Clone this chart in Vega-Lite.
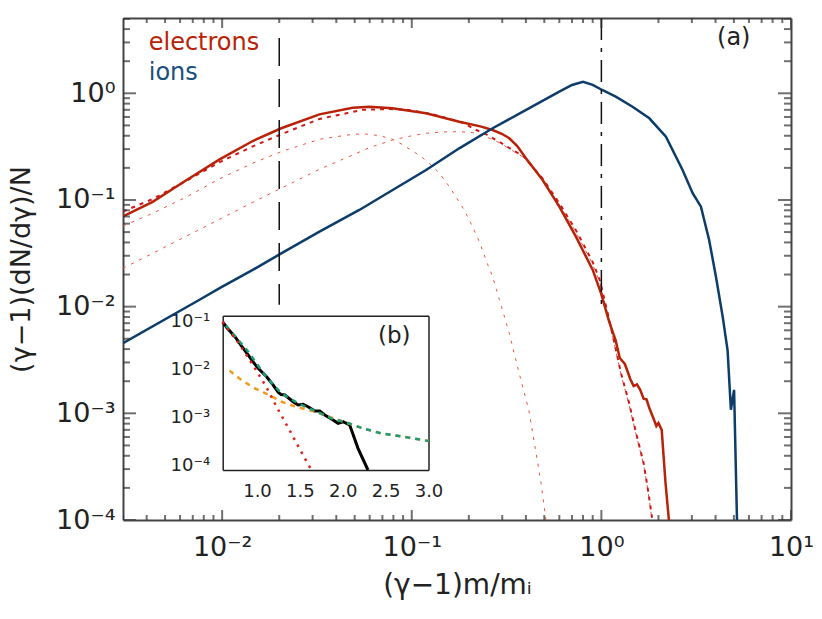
{
  "$schema": "https://vega.github.io/schema/vega-lite/v6.json",
  "width": 668,
  "height": 502,
  "autosize": {"type": "none"},
  "padding": {"left": 123, "top": 18, "right": 31, "bottom": 99},
  "background": "white",
  "config": {"view": {"stroke": null}, "font": "DejaVu Sans", "axis": {"grid": false}},
  "datasets": {
    "m": [
      {"s":"c2","x":0.003,"y":0.0229},{"s":"c2","x":0.0043,"y":0.0316},{"s":"c2","x":0.0065,"y":0.046},{"s":"c2","x":0.0097,"y":0.066},{"s":"c2","x":0.0145,"y":0.095},{"s":"c2","x":0.0205,"y":0.129},{"s":"c2","x":0.0326,"y":0.194},{"s":"c2","x":0.0488,"y":0.264},{"s":"c2","x":0.0597,"y":0.309},{"s":"c2","x":0.0793,"y":0.365},{"s":"c2","x":0.1,"y":0.40},{"s":"c2","x":0.119,"y":0.422},{"s":"c2","x":0.15,"y":0.435},{"s":"c2","x":0.178,"y":0.437},{"s":"c2","x":0.21,"y":0.428},{"s":"c2","x":0.246,"y":0.392},{"s":"c2","x":0.289,"y":0.345},{"s":"c2","x":0.34,"y":0.29},{"s":"c2","x":0.39,"y":0.25},{"s":"c2","x":0.49,"y":0.155},{"s":"c2","x":0.6,"y":0.09},{"s":"c2","x":0.734,"y":0.05},{"s":"c2","x":0.899,"y":0.025},{"s":"c2","x":0.98,"y":0.017},{"s":"c2","x":1.1,"y":0.0073},{"s":"c2","x":1.27,"y":0.0023},{"s":"c2","x":1.4,"y":0.0012},{"s":"c2","x":1.51,"y":0.00068},{"s":"c2","x":1.67,"y":0.00033},{"s":"c2","x":1.76,"y":0.00019},{"s":"c2","x":1.85,"y":0.0001},
      {"s":"c1","x":0.003,"y":0.057},{"s":"c1","x":0.0043,"y":0.075},{"s":"c1","x":0.0065,"y":0.107},{"s":"c1","x":0.0097,"y":0.158},{"s":"c1","x":0.0145,"y":0.221},{"s":"c1","x":0.0205,"y":0.284},{"s":"c1","x":0.0326,"y":0.371},{"s":"c1","x":0.0488,"y":0.413},{"s":"c1","x":0.0575,"y":0.415},{"s":"c1","x":0.068,"y":0.40},{"s":"c1","x":0.079,"y":0.372},{"s":"c1","x":0.0894,"y":0.33},{"s":"c1","x":0.1,"y":0.29},{"s":"c1","x":0.11,"y":0.262},{"s":"c1","x":0.1237,"y":0.221},{"s":"c1","x":0.14,"y":0.178},{"s":"c1","x":0.158,"y":0.133},{"s":"c1","x":0.171,"y":0.107},{"s":"c1","x":0.189,"y":0.0806},{"s":"c1","x":0.205,"y":0.0605},{"s":"c1","x":0.223,"y":0.0438},{"s":"c1","x":0.236,"y":0.034},{"s":"c1","x":0.25,"y":0.0255},{"s":"c1","x":0.267,"y":0.0191},{"s":"c1","x":0.28,"y":0.0143},{"s":"c1","x":0.29,"y":0.0116},{"s":"c1","x":0.327,"y":0.0056},{"s":"c1","x":0.368,"y":0.0024},{"s":"c1","x":0.414,"y":0.00108},{"s":"c1","x":0.45,"y":0.00045},{"s":"c1","x":0.481,"y":0.00022},{"s":"c1","x":0.51,"y":0.0001},
      {"s":"ef","x":0.003,"y":0.078},{"s":"ef","x":0.0043,"y":0.102},{"s":"ef","x":0.0065,"y":0.152},{"s":"ef","x":0.0097,"y":0.226},{"s":"ef","x":0.0145,"y":0.318},{"s":"ef","x":0.0205,"y":0.413},{"s":"ef","x":0.0326,"y":0.575},{"s":"ef","x":0.0551,"y":0.70},{"s":"ef","x":0.075,"y":0.712},{"s":"ef","x":0.093,"y":0.705},{"s":"ef","x":0.129,"y":0.635},{"s":"ef","x":0.186,"y":0.53},{"s":"ef","x":0.218,"y":0.455},{"s":"ef","x":0.25,"y":0.407},{"s":"ef","x":0.289,"y":0.352},{"s":"ef","x":0.34,"y":0.294},{"s":"ef","x":0.39,"y":0.255},{"s":"ef","x":0.49,"y":0.159},{"s":"ef","x":0.6,"y":0.093},{"s":"ef","x":0.734,"y":0.052},{"s":"ef","x":0.899,"y":0.0263},{"s":"ef","x":0.98,"y":0.0178},{"s":"ef","x":1.1,"y":0.0076},{"s":"ef","x":1.27,"y":0.00237},{"s":"ef","x":1.4,"y":0.00125},{"s":"ef","x":1.51,"y":0.0007},{"s":"ef","x":1.67,"y":0.00034},{"s":"ef","x":1.76,"y":0.000193},{"s":"ef","x":1.85,"y":0.000105},
      {"s":"e","x":0.003,"y":0.070},{"s":"e","x":0.0043,"y":0.096},{"s":"e","x":0.0065,"y":0.154},{"s":"e","x":0.0097,"y":0.24},{"s":"e","x":0.0145,"y":0.357},{"s":"e","x":0.0205,"y":0.47},{"s":"e","x":0.0326,"y":0.635},{"s":"e","x":0.0488,"y":0.733},{"s":"e","x":0.06,"y":0.749},{"s":"e","x":0.079,"y":0.724},{"s":"e","x":0.119,"y":0.65},{"s":"e","x":0.178,"y":0.542},{"s":"e","x":0.23,"y":0.49},{"s":"e","x":0.267,"y":0.453},{"s":"e","x":0.3,"y":0.415},{"s":"e","x":0.327,"y":0.379},{"s":"e","x":0.36,"y":0.32},{"s":"e","x":0.4,"y":0.246},{"s":"e","x":0.49,"y":0.154},{"s":"e","x":0.6,"y":0.0865},{"s":"e","x":0.734,"y":0.0453},{"s":"e","x":0.9,"y":0.0221},{"s":"e","x":0.995,"y":0.0134},{"s":"e","x":1.1,"y":0.0072},{"s":"e","x":1.19,"y":0.0048},{"s":"e","x":1.25,"y":0.0033},{"s":"e","x":1.33,"y":0.0029},{"s":"e","x":1.42,"y":0.0021},{"s":"e","x":1.48,"y":0.0018},{"s":"e","x":1.54,"y":0.00187},{"s":"e","x":1.6,"y":0.00167},{"s":"e","x":1.67,"y":0.00137},{"s":"e","x":1.73,"y":0.00135},{"s":"e","x":1.79,"y":0.00112},{"s":"e","x":1.89,"y":0.00088},{"s":"e","x":1.95,"y":0.00076},{"s":"e","x":2.0,"y":0.00081},{"s":"e","x":2.08,"y":0.0007},{"s":"e","x":2.18,"y":0.00022},{"s":"e","x":2.27,"y":0.0001},
      {"s":"i","x":0.003,"y":0.00454},{"s":"i","x":0.0076,"y":0.0116},{"s":"i","x":0.0097,"y":0.0149},{"s":"i","x":0.0145,"y":0.0221},{"s":"i","x":0.0205,"y":0.0316},{"s":"i","x":0.0326,"y":0.0505},{"s":"i","x":0.0529,"y":0.0806},{"s":"i","x":0.0793,"y":0.124},{"s":"i","x":0.119,"y":0.191},{"s":"i","x":0.178,"y":0.305},{"s":"i","x":0.267,"y":0.47},{"s":"i","x":0.401,"y":0.698},{"s":"i","x":0.6,"y":1.035},{"s":"i","x":0.7,"y":1.196},{"s":"i","x":0.8,"y":1.284},{"s":"i","x":0.9,"y":1.2},{"s":"i","x":1.01,"y":1.074},{"s":"i","x":1.1,"y":1.0},{"s":"i","x":1.19,"y":0.929},{"s":"i","x":1.46,"y":0.749},{"s":"i","x":1.79,"y":0.583},{"s":"i","x":2.19,"y":0.392},{"s":"i","x":2.68,"y":0.191},{"s":"i","x":3.03,"y":0.1156},{"s":"i","x":3.35,"y":0.0865},{"s":"i","x":3.7,"y":0.0422},{"s":"i","x":4.02,"y":0.0191},{"s":"i","x":4.36,"y":0.0081},{"s":"i","x":4.63,"y":0.0039},{"s":"i","x":4.82,"y":0.00108},{"s":"i","x":5.01,"y":0.00166},{"s":"i","x":5.19,"y":0.0001}
    ],
    "r": [
      {"s":"d","x":0.02,"y":3.3,"y2":0.0104},
      {"s":"dd","x":1.0,"y":5.08,"y2":0.0095}
    ],
    "t": [
      {"s":"e","x":0.0041,"y":2.55,"t":"electrons"},
      {"s":"i","x":0.0041,"y":1.33,"t":"ions"},
      {"s":"a","x":4.99,"y":3.3,"t":"(a)"}
    ],
    "d1": [{"x":1,"y":1}],
    "xmj": [{"v":0.01},{"v":0.1},{"v":1},{"v":10}],
    "xmn": [{"v":0.003},{"v":0.004},{"v":0.005},{"v":0.006},{"v":0.007},{"v":0.008},{"v":0.009},{"v":0.02},{"v":0.03},{"v":0.04},{"v":0.05},{"v":0.06},{"v":0.07},{"v":0.08},{"v":0.09},{"v":0.2},{"v":0.3},{"v":0.4},{"v":0.5},{"v":0.6},{"v":0.7},{"v":0.8},{"v":0.9},{"v":2},{"v":3},{"v":4},{"v":5},{"v":6},{"v":7},{"v":8},{"v":9}],
    "ymj": [{"v":0.0001},{"v":0.001},{"v":0.01},{"v":0.1},{"v":1}],
    "ymn": [{"v":0.0002},{"v":0.0003},{"v":0.0004},{"v":0.0005},{"v":0.0006},{"v":0.0007},{"v":0.0008},{"v":0.0009},{"v":0.002},{"v":0.003},{"v":0.004},{"v":0.005},{"v":0.006},{"v":0.007},{"v":0.008},{"v":0.009},{"v":0.02},{"v":0.03},{"v":0.04},{"v":0.05},{"v":0.06},{"v":0.07},{"v":0.08},{"v":0.09},{"v":0.2},{"v":0.3},{"v":0.4},{"v":0.5},{"v":0.6},{"v":0.7},{"v":0.8},{"v":0.9},{"v":2},{"v":3},{"v":4},{"v":5}],
    "ixmj": [{"v":1.0},{"v":1.5},{"v":2.0},{"v":2.5}],
    "ixmn": [{"v":0.7},{"v":0.8},{"v":0.9},{"v":1.1},{"v":1.2},{"v":1.3},{"v":1.4},{"v":1.6},{"v":1.7},{"v":1.8},{"v":1.9},{"v":2.1},{"v":2.2},{"v":2.3},{"v":2.4},{"v":2.6},{"v":2.7},{"v":2.8},{"v":2.9}],
    "iymj": [{"v":0.0001},{"v":0.001},{"v":0.01},{"v":0.1}],
    "iymn": [{"v":0.00008},{"v":0.00009},{"v":0.0002},{"v":0.0003},{"v":0.0004},{"v":0.0005},{"v":0.0006},{"v":0.0007},{"v":0.0008},{"v":0.0009},{"v":0.002},{"v":0.003},{"v":0.004},{"v":0.005},{"v":0.006},{"v":0.007},{"v":0.008},{"v":0.009},{"v":0.02},{"v":0.03},{"v":0.04},{"v":0.05},{"v":0.06},{"v":0.07},{"v":0.08},{"v":0.09}],
    "n": [
      {"s":"b","x":0.6,"y":0.1},{"s":"b","x":0.65,"y":0.075},{"s":"b","x":0.743,"y":0.0486},{"s":"b","x":0.82,"y":0.031},{"s":"b","x":0.898,"y":0.0201},{"s":"b","x":0.95,"y":0.0148},{"s":"b","x":1.014,"y":0.0106},{"s":"b","x":1.112,"y":0.00707},{"s":"b","x":1.189,"y":0.00474},{"s":"b","x":1.247,"y":0.00334},{"s":"b","x":1.28,"y":0.003},{"s":"b","x":1.325,"y":0.00293},{"s":"b","x":1.421,"y":0.00212},{"s":"b","x":1.48,"y":0.00181},{"s":"b","x":1.538,"y":0.00187},{"s":"b","x":1.596,"y":0.00167},{"s":"b","x":1.674,"y":0.00135},{"s":"b","x":1.732,"y":0.00135},{"s":"b","x":1.79,"y":0.00112},{"s":"b","x":1.887,"y":0.00088},{"s":"b","x":1.945,"y":0.00075},{"s":"b","x":2.003,"y":0.00081},{"s":"b","x":2.081,"y":0.00069},{"s":"b","x":2.178,"y":0.000224},{"s":"b","x":2.294,"y":0.000079},
      {"s":"r","x":0.6,"y":0.1},{"s":"r","x":0.7,"y":0.056},{"s":"r","x":0.8,"y":0.033},{"s":"r","x":0.976,"y":0.0106},{"s":"r","x":1.1,"y":0.0046},{"s":"r","x":1.228,"y":0.00167},{"s":"r","x":1.4,"y":0.00046},{"s":"r","x":1.557,"y":0.000139},{"s":"r","x":1.635,"y":0.000079},
      {"s":"o","x":0.68,"y":0.0095},{"s":"o","x":0.82,"y":0.006},{"s":"o","x":0.976,"y":0.00404},{"s":"o","x":1.13,"y":0.003},{"s":"o","x":1.286,"y":0.00212},{"s":"o","x":1.44,"y":0.0017},{"s":"o","x":1.674,"y":0.00131},{"s":"o","x":2.061,"y":0.00075},{"s":"o","x":2.22,"y":0.0006},{"s":"o","x":2.45,"y":0.00046},{"s":"o","x":2.68,"y":0.0004},{"s":"o","x":2.934,"y":0.000335},{"s":"o","x":3.0,"y":0.00032},
      {"s":"g","x":0.6,"y":0.1},{"s":"g","x":0.743,"y":0.05},{"s":"g","x":0.898,"y":0.0236},{"s":"g","x":1.0,"y":0.013},{"s":"g","x":1.092,"y":0.00767},{"s":"g","x":1.19,"y":0.0048},{"s":"g","x":1.286,"y":0.00318},{"s":"g","x":1.48,"y":0.00196},{"s":"g","x":1.674,"y":0.00137},{"s":"g","x":1.868,"y":0.00095},{"s":"g","x":2.061,"y":0.00076},{"s":"g","x":2.22,"y":0.0006},{"s":"g","x":2.45,"y":0.00046},{"s":"g","x":2.68,"y":0.0004},{"s":"g","x":2.934,"y":0.000335},{"s":"g","x":3.0,"y":0.00032}
    ],
    "tb": [{"x":2.6,"y":0.05,"t":"(b)"}],
    "d2": [{"x":1.5,"y":0.001}]
  },
  "layer": [
    {
      "encoding": {
        "x": {"field":"x","type":"quantitative","scale":{"type":"log","domain":[0.003,10],"nice":false},"axis":null},
        "y": {"field":"y","type":"quantitative","scale":{"type":"log","domain":[0.0001,5.08],"nice":false},"axis":null}
      },
      "layer": [
        {"data":{"name":"m"},"transform":[{"filter":"datum.s=='c2'"}],"mark":{"type":"line","color":"#EA5540","strokeWidth":1,"strokeDash":[3,6],"clip":true}},
        {"data":{"name":"m"},"transform":[{"filter":"datum.s=='c1'"}],"mark":{"type":"line","color":"#EA5540","strokeWidth":1,"strokeDash":[3,6],"clip":true}},
        {"data":{"name":"m"},"transform":[{"filter":"datum.s=='ef'"}],"mark":{"type":"line","color":"#D01818","strokeWidth":2,"strokeDash":[4,5],"clip":true}},
        {"data":{"name":"m"},"transform":[{"filter":"datum.s=='e'"}],"mark":{"type":"line","color":"#B82208","strokeWidth":2.5,"clip":true}},
        {"data":{"name":"m"},"transform":[{"filter":"datum.s=='i'"}],"mark":{"type":"line","color":"#0C3D6A","strokeWidth":2.5,"clip":true}},
        {"data":{"name":"r"},"transform":[{"filter":"datum.s=='d'"}],"mark":{"type":"rule","color":"#111","strokeWidth":1.5,"strokeDash":[28,13]},"encoding":{"y2":{"field":"y2"}}},
        {"data":{"name":"r"},"transform":[{"filter":"datum.s=='dd'"}],"mark":{"type":"rule","color":"#111","strokeWidth":1.5,"strokeDash":[22,8,4,8]},"encoding":{"y2":{"field":"y2"}}},
        {"data":{"name":"t"},"transform":[{"filter":"datum.s=='e'"}],"mark":{"type":"text","align":"left","baseline":"alphabetic","fontSize":24,"color":"#B82208"},"encoding":{"text":{"field":"t"}}},
        {"data":{"name":"t"},"transform":[{"filter":"datum.s=='i'"}],"mark":{"type":"text","align":"left","baseline":"alphabetic","fontSize":24,"color":"#1B4F7E"},"encoding":{"text":{"field":"t"}}},
        {"data":{"name":"t"},"transform":[{"filter":"datum.s=='a'"}],"mark":{"type":"text","align":"center","baseline":"middle","fontSize":24,"color":"#222"},"encoding":{"text":{"field":"t"}}}
      ]
    },
    {
      "data":{"name":"xmj"},
      "mark":{"type":"tick","orient":"vertical","size":20,"thickness":2,"color":"#333","clip":true},
      "encoding":{"x":{"field":"v","type":"quantitative","scale":{"type":"log","domain":[0.003,10],"nice":false},"axis":null},"y":{"datum":0.0001,"type":"quantitative","scale":{"type":"log","domain":[0.0001,5.08],"nice":false},"axis":null}}
    },
    {
      "data":{"name":"xmj"},
      "mark":{"type":"tick","orient":"vertical","size":20,"thickness":2,"color":"#333","clip":true},
      "encoding":{"x":{"field":"v","type":"quantitative","scale":{"type":"log","domain":[0.003,10],"nice":false},"axis":null},"y":{"datum":5.08,"type":"quantitative","scale":{"type":"log","domain":[0.0001,5.08],"nice":false},"axis":null}}
    },
    {
      "data":{"name":"xmn"},
      "mark":{"type":"tick","orient":"vertical","size":10,"thickness":2,"color":"#333","clip":true},
      "encoding":{"x":{"field":"v","type":"quantitative","scale":{"type":"log","domain":[0.003,10],"nice":false},"axis":null},"y":{"datum":0.0001,"type":"quantitative","scale":{"type":"log","domain":[0.0001,5.08],"nice":false},"axis":null}}
    },
    {
      "data":{"name":"xmn"},
      "mark":{"type":"tick","orient":"vertical","size":10,"thickness":2,"color":"#333","clip":true},
      "encoding":{"x":{"field":"v","type":"quantitative","scale":{"type":"log","domain":[0.003,10],"nice":false},"axis":null},"y":{"datum":5.08,"type":"quantitative","scale":{"type":"log","domain":[0.0001,5.08],"nice":false},"axis":null}}
    },
    {
      "data":{"name":"ymj"},
      "mark":{"type":"tick","orient":"horizontal","size":26,"thickness":2,"color":"#333","clip":true},
      "encoding":{"y":{"field":"v","type":"quantitative","scale":{"type":"log","domain":[0.0001,5.08],"nice":false},"axis":null},"x":{"datum":0.003,"type":"quantitative","scale":{"type":"log","domain":[0.003,10],"nice":false},"axis":null}}
    },
    {
      "data":{"name":"ymj"},
      "mark":{"type":"tick","orient":"horizontal","size":26,"thickness":2,"color":"#333","clip":true},
      "encoding":{"y":{"field":"v","type":"quantitative","scale":{"type":"log","domain":[0.0001,5.08],"nice":false},"axis":null},"x":{"datum":10,"type":"quantitative","scale":{"type":"log","domain":[0.003,10],"nice":false},"axis":null}}
    },
    {
      "data":{"name":"ymn"},
      "mark":{"type":"tick","orient":"horizontal","size":14,"thickness":2,"color":"#333","clip":true},
      "encoding":{"y":{"field":"v","type":"quantitative","scale":{"type":"log","domain":[0.0001,5.08],"nice":false},"axis":null},"x":{"datum":0.003,"type":"quantitative","scale":{"type":"log","domain":[0.003,10],"nice":false},"axis":null}}
    },
    {
      "data":{"name":"ymn"},
      "mark":{"type":"tick","orient":"horizontal","size":14,"thickness":2,"color":"#333","clip":true},
      "encoding":{"y":{"field":"v","type":"quantitative","scale":{"type":"log","domain":[0.0001,5.08],"nice":false},"axis":null},"x":{"datum":10,"type":"quantitative","scale":{"type":"log","domain":[0.003,10],"nice":false},"axis":null}}
    },
    {
      "data":{"name":"d1"},
      "mark":{"type":"point","opacity":0},
      "encoding": {
        "x": {"field":"x","type":"quantitative","scale":{"type":"log","domain":[0.003,10],"nice":false},
          "axis":{"orient":"top","ticks":false,"labels":false,"title":null,"domain":true,"domainColor":"#444","domainWidth":2}},
        "y": {"field":"y","type":"quantitative","scale":{"type":"log","domain":[0.0001,5.08],"nice":false},
          "axis":{"orient":"right","ticks":false,"labels":false,"title":null,"domain":true,"domainColor":"#444","domainWidth":2}}
      }
    },
    {
      "data":{"name":"d1"},
      "mark":{"type":"point","opacity":0},
      "encoding": {
        "x": {"field":"x","type":"quantitative","scale":{"type":"log","domain":[0.003,10],"nice":false},
          "axis":{"orient":"bottom","values":[0.01,0.1,1,10],"ticks":false,"domain":true,"domainColor":"#444","domainWidth":2,"labels":true,
            "labelExpr":"datum.value < 0.05 ? '10⁻²' : datum.value < 0.5 ? '10⁻¹' : datum.value < 5 ? '10⁰' : '10¹'",
            "labelFontSize":27,"labelColor":"#222","labelPadding":14,"labelFlush":false,"labelOverlap":false,"labelBound":false,
            "title":"(γ−1)m/mᵢ","titleFontSize":28,"titleFontWeight":"normal","titleColor":"#222","titlePadding":11}},
        "y": {"field":"y","type":"quantitative","scale":{"type":"log","domain":[0.0001,5.08],"nice":false},
          "axis":{"orient":"left","values":[0.0001,0.001,0.01,0.1,1],"ticks":false,"domain":true,"domainColor":"#444","domainWidth":2,"labels":true,
            "labelExpr":"datum.value < 0.0005 ? '10⁻⁴' : datum.value < 0.005 ? '10⁻³' : datum.value < 0.05 ? '10⁻²' : datum.value < 0.5 ? '10⁻¹' : '10⁰'",
            "labelFontSize":27,"labelColor":"#222","labelPadding":8,"labelFlush":false,"labelOverlap":false,"labelBound":false,
            "title":"(γ−1)(dN/dγ)/N","titleFontSize":27,"titleFontWeight":"normal","titleColor":"#222","titlePadding":20}}
      }
    },
    {
      "encoding": {
        "x": {"field":"x","type":"quantitative","scale":{"type":"linear","domain":[0.6,3.0],"range":[99.7,305.5],"nice":false,"zero":false},"axis":null},
        "y": {"field":"y","type":"quantitative","scale":{"type":"log","domain":[0.000079,0.134],"range":[452,297.7],"nice":false},"axis":null}
      },
      "layer": [
        {"data":{"name":"n"},"transform":[{"filter":"datum.s=='b'"}],"mark":{"type":"line","color":"#000","strokeWidth":3}},
        {"data":{"name":"n"},"transform":[{"filter":"datum.s=='o'"}],"mark":{"type":"line","color":"#F39A1E","strokeWidth":2.5,"strokeDash":[5,5]}},
        {"data":{"name":"n"},"transform":[{"filter":"datum.s=='g'"}],"mark":{"type":"line","color":"#1B9E77","strokeWidth":2.5,"strokeDash":[5,5],"strokeDashOffset":5}},
        {"data":{"name":"n"},"transform":[{"filter":"datum.s=='r'"}],"mark":{"type":"line","color":"#E3201B","strokeWidth":2.5,"strokeDash":[2.5,5.5]}},
        {"data":{"name":"tb"},"mark":{"type":"text","align":"center","baseline":"middle","fontSize":23,"color":"#222"},"encoding":{"text":{"field":"t"}}},
        {"data":{"name":"ixmj"},"mark":{"type":"tick","orient":"vertical","size":5,"thickness":1.3,"color":"#222","yOffset":-2.5},"encoding":{"x":{"field":"v","type":"quantitative"},"y":{"datum":0.000079,"type":"quantitative"}}},
        {"data":{"name":"ixmj"},"mark":{"type":"tick","orient":"vertical","size":5,"thickness":1.3,"color":"#222","yOffset":2.5},"encoding":{"x":{"field":"v","type":"quantitative"},"y":{"datum":0.134,"type":"quantitative"}}},
        {"data":{"name":"ixmn"},"mark":{"type":"tick","orient":"vertical","size":2.5,"thickness":1.3,"color":"#222","yOffset":-1.25},"encoding":{"x":{"field":"v","type":"quantitative"},"y":{"datum":0.000079,"type":"quantitative"}}},
        {"data":{"name":"ixmn"},"mark":{"type":"tick","orient":"vertical","size":2.5,"thickness":1.3,"color":"#222","yOffset":1.25},"encoding":{"x":{"field":"v","type":"quantitative"},"y":{"datum":0.134,"type":"quantitative"}}},
        {"data":{"name":"iymj"},"mark":{"type":"tick","orient":"horizontal","size":5,"thickness":1.3,"color":"#222","xOffset":2.5},"encoding":{"y":{"field":"v","type":"quantitative"},"x":{"datum":0.6,"type":"quantitative"}}},
        {"data":{"name":"iymj"},"mark":{"type":"tick","orient":"horizontal","size":5,"thickness":1.3,"color":"#222","xOffset":-2.5},"encoding":{"y":{"field":"v","type":"quantitative"},"x":{"datum":3.0,"type":"quantitative"}}},
        {"data":{"name":"iymn"},"mark":{"type":"tick","orient":"horizontal","size":2.5,"thickness":1.3,"color":"#222","xOffset":1.25},"encoding":{"y":{"field":"v","type":"quantitative"},"x":{"datum":0.6,"type":"quantitative"}}},
        {"data":{"name":"iymn"},"mark":{"type":"tick","orient":"horizontal","size":2.5,"thickness":1.3,"color":"#222","xOffset":-1.25},"encoding":{"y":{"field":"v","type":"quantitative"},"x":{"datum":3.0,"type":"quantitative"}}}
      ]
    },
    {
      "data":{"name":"d2"},
      "mark":{"type":"point","opacity":0},
      "encoding": {
        "x": {"field":"x","type":"quantitative","scale":{"type":"linear","domain":[0.6,3.0],"range":[99.7,305.5],"nice":false,"zero":false},
          "axis":{"orient":"top","offset":-297.7,"ticks":false,"labels":false,"title":null,"domain":true,"domainColor":"#222","domainWidth":1.5}},
        "y": {"field":"y","type":"quantitative","scale":{"type":"log","domain":[0.000079,0.134],"range":[452,297.7],"nice":false},
          "axis":{"orient":"right","offset":-362.5,"ticks":false,"labels":false,"title":null,"domain":true,"domainColor":"#222","domainWidth":1.5}}
      }
    },
    {
      "data":{"name":"d2"},
      "mark":{"type":"point","opacity":0},
      "encoding": {
        "x": {"field":"x","type":"quantitative","scale":{"type":"linear","domain":[0.6,3.0],"range":[99.7,305.5],"nice":false,"zero":false},
          "axis":{"orient":"bottom","offset":-50,"values":[1.0,1.5,2.0,2.5,3.0],"format":".1f","ticks":false,"domain":true,"domainColor":"#222","domainWidth":1.5,"labels":true,"title":null,
            "labelFontSize":18,"labelColor":"#222","labelPadding":12,"labelFlush":false,"labelOverlap":false,"labelBound":false}},
        "y": {"field":"y","type":"quantitative","scale":{"type":"log","domain":[0.000079,0.134],"range":[452,297.7],"nice":false},
          "axis":{"orient":"left","offset":-99.7,"values":[0.0001,0.001,0.01,0.1],"ticks":false,"domain":true,"domainColor":"#222","domainWidth":1.5,"labels":true,"title":null,
            "labelExpr":"datum.value < 0.0005 ? '10⁻⁴' : datum.value < 0.005 ? '10⁻³' : datum.value < 0.05 ? '10⁻²' : '10⁻¹'",
            "labelFontSize":18,"labelColor":"#222","labelPadding":13,"labelFlush":false,"labelOverlap":false,"labelBound":false}}
      }
    }
  ],
  "resolve": {"scale": {"x": "independent", "y": "independent"}}
}
